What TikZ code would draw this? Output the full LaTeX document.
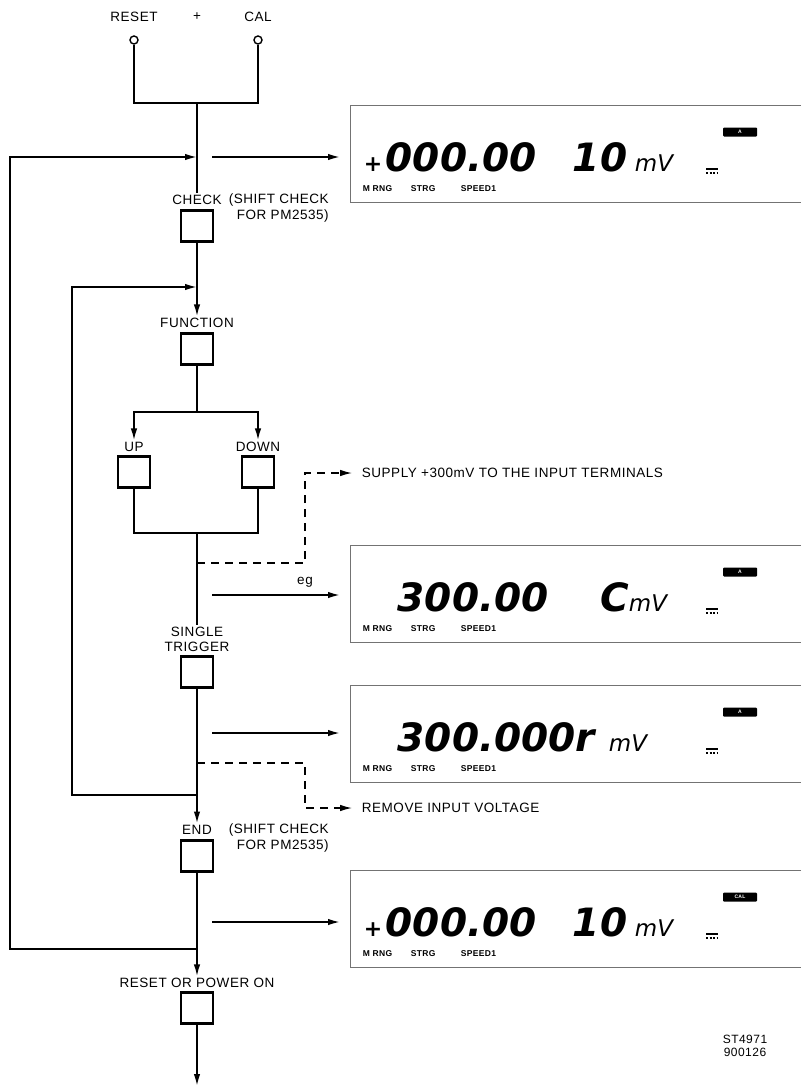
\documentclass[tikz,border=0pt]{standalone}
\usepackage{fontspec}
\newfontfamily\lblfont[LetterSpace=4]{Liberation Sans}
\newfontfamily\segfont{DejaVu Sans}
\usetikzlibrary{arrows.meta,positioning}

\begin{document}
\begin{tikzpicture}[x=1pt,y=-1pt,>={Latex[length=12pt,width=6.5pt]},
  key/.style={draw,rectangle,minimum width=32pt,minimum height=31pt,inner sep=0pt,line width=2.4pt},
  term/.style={draw,circle,minimum size=8pt,inner sep=0pt,line width=1.4pt},
  lbl/.style={font=\lblfont\fontsize{13.5}{16}\selectfont,inner sep=1pt},
  dsh/.style={dash pattern=on 8pt off 6pt,line width=1.2pt},
  lcd/.style={draw=black!55,line width=.9pt},
  seg/.style={font=\segfont\bfseries\itshape\fontsize{39}{39}\selectfont,inner sep=0pt,anchor=base west},
  unit/.style={font=\segfont\itshape\fontsize{23}{23}\selectfont,inner sep=0pt,anchor=base west},
  ann/.style={font=\lblfont\bfseries\fontsize{8.5}{9}\selectfont,inner sep=0pt,anchor=base west},
  flag/.style={fill=black,rounded corners=1pt,minimum width=34pt,minimum height=9pt,inner sep=0pt,text=white,font=\lblfont\bfseries\fontsize{5}{5}\selectfont},
  every path/.style={line width=1.7pt}]
\useasboundingbox (0,0) rectangle (801,1087);

% inputs
\node[lbl] (trs) at (134,17) {RESET};
\node[lbl] (tplus) at (197,17) {+};
\node[lbl] (tcal) at (258,17) {CAL};
\node[term] (crs) at (134,40) {};
\node[term] (ccal) at (258,40) {};
\coordinate (j0) at (197,103);
\draw (crs) |- (j0) -| (ccal);

% check
\coordinate (m1) at (197,157);
\node[lbl] (tchk) at (197,200) {CHECK};
\node[lbl,align=right,anchor=north west] (schk) at (227,192) {(SHIFT CHECK\\FOR PM2535)};
\node[key] (chk) at (197,226) {};
\draw (j0) -- (tchk);

% function
\coordinate (m2) at (197,287);
\node[lbl] (tfun) at (197,323) {FUNCTION};
\node[key] (fun) at (197,349) {};
\draw[->] (chk) -- (tfun);

% up / down
\coordinate (sp) at (197,412);
\node[lbl] (tup) at (134,447) {UP};
\node[lbl] (tdn) at (258,447) {DOWN};
\node[key] (up) at (134,472) {};
\node[key] (dn) at (258,472) {};
\coordinate (mg) at (197,533);
\draw (fun) -- (sp);
\draw[->] (sp) -| (tup);
\draw[->] (sp) -| (tdn);
\draw (up) |- (mg) -| (dn);

% single trigger
\node[lbl,align=center] (tsgl) at (197,639) {SINGLE\\[-1pt]TRIGGER};
\node[key] (trg) at (197,672) {};
\draw (mg) -- (tsgl);

% end
\coordinate (m3) at (197,795);
\node[lbl] (tend) at (197,830) {END};
\node[lbl,align=right,anchor=north west] (send) at (227,822) {(SHIFT CHECK\\FOR PM2535)};
\node[key] (endb) at (197,856) {};
\draw[->] (trg) -- (tend);

% reset or power on
\coordinate (m4) at (197,949);
\node[lbl] (trst) at (197,983) {RESET OR POWER ON};
\node[key] (rst) at (197,1008) {};
\coordinate (bot) at (197,1086);
\draw[->] (endb) -- (trst);
\draw[->] (rst) -- (bot);

% loops
\draw[->] (m4) -- (10,949) |- (m1);
\draw[->] (m3) -- (72,795) |- (m2);

% operator notes
\coordinate (b1) at (197,563);
\coordinate (s1) at (352,473);
\node[lbl,anchor=west] (tsup) at (360,473) {SUPPLY +300mV TO THE INPUT TERMINALS};
\draw[dsh,->] (b1) -- (305,563) |- (s1);
\coordinate (b2) at (197,763);
\coordinate (s2) at (352,808);
\node[lbl,anchor=west] (trem) at (360,808) {REMOVE INPUT VOLTAGE};
\draw[dsh,->] (b2) -- (305,763) |- (s2);

% displays
\foreach \t/\f [count=\i] in {105/A,545/A,685/A,870/CAL}{
  \draw[lcd] (801,\t) -- (350,\t) -- (350,\t+97) -- (801,\t+97);
  \node[flag] (flag\i) at (740,\t+27) {\f};
  \node[ann] (rng\i) at (362,\t+86) {M RNG};
  \node[ann] (trg\i) at (410,\t+86) {STRG};
  \node[ann] (spd\i) at (460,\t+86) {SPEED1};
  \draw[line width=1.2pt] (706,\t+64) -- (718,\t+64);
  \draw[line width=1.2pt,dash pattern=on 2pt off 1.5pt] (706,\t+68) -- (718,\t+68);
}
\node[seg,font=\segfont\bfseries\fontsize{22}{22}\selectfont] (p1) at (363,171) {+};
\node[seg] (r1) at (385,171) {000.00};
\node[seg] (e1) at (572,171) {10};
\node[unit] (u1) at (634,171) {mV};
\node[seg] (r2) at (397,611) {300.00};
\node[seg] (e2) at (600,611) {C};
\node[unit] (u2) at (628,611) {mV};
\node[seg] (r3) at (397,751) {300.000r};
\node[unit] (u3) at (608,751) {mV};
\node[seg,font=\segfont\bfseries\fontsize{22}{22}\selectfont] (p4) at (363,936) {+};
\node[seg] (r4) at (385,936) {000.00};
\node[seg] (e4) at (572,936) {10};
\node[unit] (u4) at (634,936) {mV};

% outputs to displays
\coordinate (a1) at (212,157);
\coordinate (d1) at (340,157);
\draw[->] (a1) -- (d1);
\node[lbl] (teg) at (305,582) {eg};
\coordinate (a2) at (212,595);
\coordinate (d2) at (340,595);
\draw[->] (a2) -- (d2);
\coordinate (a3) at (212,733);
\coordinate (d3) at (340,733);
\draw[->] (a3) -- (d3);
\coordinate (a4) at (212,922);
\coordinate (d4) at (340,922);
\draw[->] (a4) -- (d4);

\node[lbl,align=center,font=\lblfont\fontsize{12}{13}\selectfont] (stamp) at (745,1046) {ST4971\\900126};
\end{tikzpicture}
\end{document}
